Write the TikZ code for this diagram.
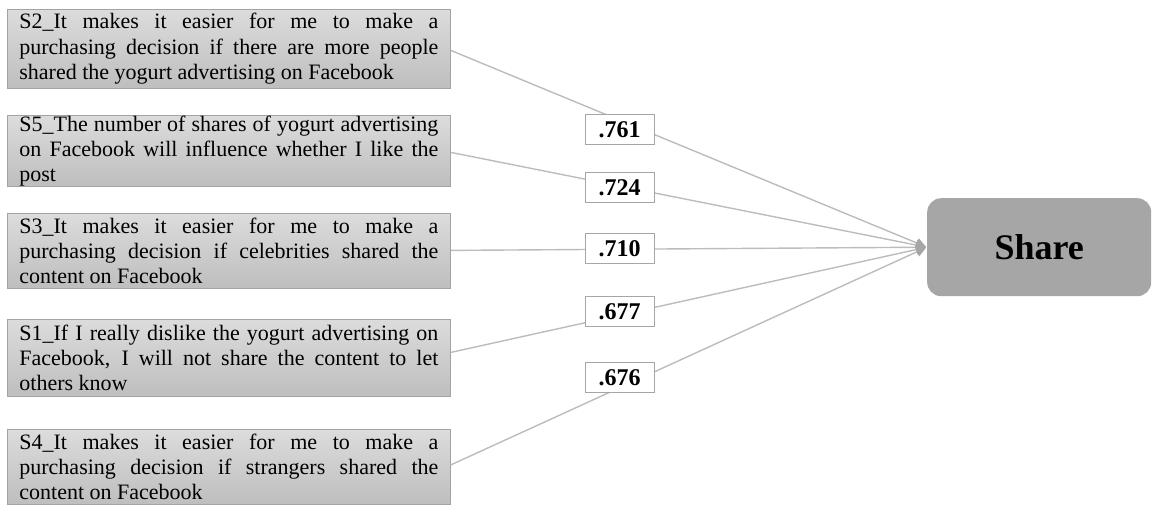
\documentclass[tikz,border=0pt]{standalone}
\usepackage{fontspec}
\setmainfont{Liberation Serif}
\usetikzlibrary{arrows.meta}

\definecolor{boxtop}{HTML}{DCDCDC}
\definecolor{boxbottom}{HTML}{BEBEBE}
\definecolor{boxframe}{HTML}{A3A3A3}
\definecolor{linkgray}{HTML}{BCBCBC}
\definecolor{tipgray}{HTML}{A6A6A6}
\definecolor{sharefill}{HTML}{A6A6A6}

\tikzset{
  item/.style={draw=boxframe, line width=0.8pt, top color=boxtop, bottom color=boxbottom,
    text width=419pt, inner xsep=12pt, inner ysep=0pt, align=justify, anchor=north west,
    font=\fontsize{22}{25.3}\selectfont},
  loading/.style={draw=tipgray, line width=0.8pt, fill=white, minimum width=69pt,
    minimum height=30pt, inner sep=0pt, font=\fontsize{24}{27}\selectfont\bfseries},
  construct/.style={fill=sharefill, rounded corners=14pt, minimum width=224pt,
    minimum height=98pt, anchor=north west, font=\fontsize{36}{40}\selectfont\bfseries},
  link/.style={draw=linkgray, line width=1.4pt,
    -{Triangle[length=10pt,width=10pt,color=tipgray]}, shorten >=1pt}
}

\begin{document}
\begin{tikzpicture}[x=1pt,y=-1pt]
\useasboundingbox (0,0) rectangle (1152,504);

% indicator items
\node[item, minimum height=79pt] (s2) at (7,9)
  {S2\_It makes it easier for me to make a\linebreak purchasing decision if there are more people\linebreak shared the yogurt advertising on Facebook};
\node[item, minimum height=71pt] (s5) at (7,115)
  {S5\_The number of shares of yogurt advertising\linebreak on Facebook will influence whether I like the\linebreak post};
\node[item, minimum height=75pt] (s3) at (7,213)
  {S3\_It makes it easier for me to make a\linebreak purchasing decision if celebrities shared the\linebreak content on Facebook};
\node[item, minimum height=77pt] (s1) at (7,319)
  {S1\_If I really dislike the yogurt advertising on\linebreak Facebook, I will not share the content to let\linebreak others know};
\node[item, minimum height=75pt] (s4) at (7,429)
  {S4\_It makes it easier for me to make a\linebreak purchasing decision if strangers shared the\linebreak content on Facebook};

% latent construct
\node[construct] (share) at (927,198) {Share};

% paths to the construct
\draw[link] ([yshift=-1.5pt]s2.east) -- (share.west);
\draw[link] ([yshift=-1.5pt]s5.east) -- (share.west);
\draw[link] ([yshift=0.5pt]s3.east) -- (share.west);
\draw[link] ([yshift=5.5pt]s1.east) -- (share.west);
\draw[link] ([yshift=2pt]s4.east) -- (share.west);

% loadings
\node[loading] (l2) at (619.5,129.5) {.761};
\node[loading] (l5) at (619.5,187.5) {.724};
\node[loading] (l3) at (619.5,248.5) {.710};
\node[loading] (l1) at (619.5,311.5) {.677};
\node[loading] (l4) at (619.5,377.5) {.676};
\end{tikzpicture}
\end{document}
